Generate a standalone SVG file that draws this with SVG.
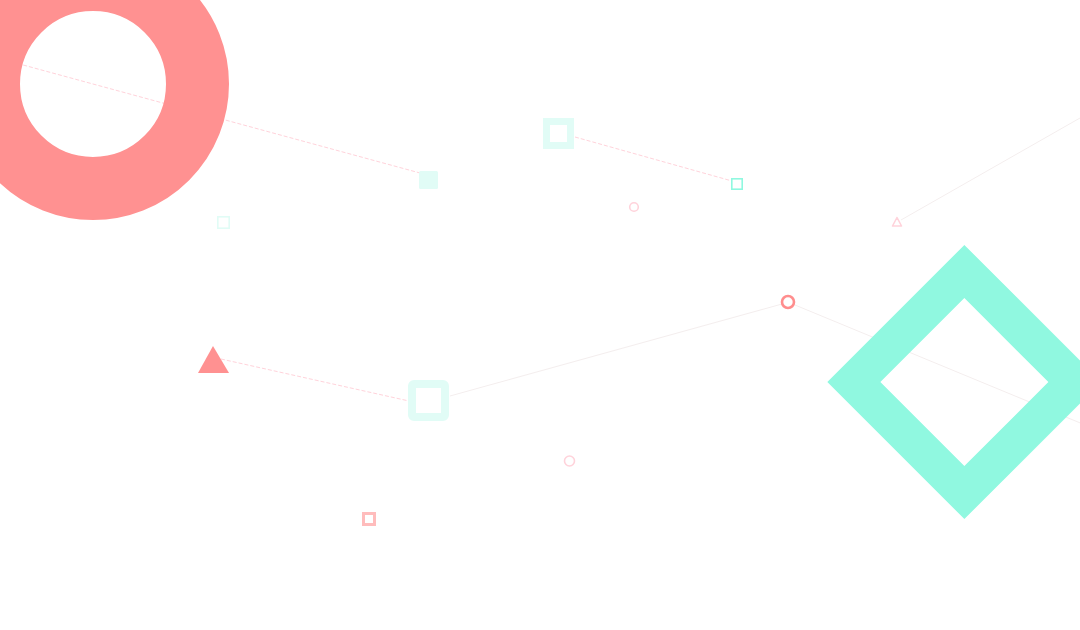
<svg xmlns="http://www.w3.org/2000/svg" width="1080" height="630" viewBox="0 0 1080 630">
<style>
.dash{fill:none;stroke:#ffd3db;stroke-width:1;stroke-dasharray:4 2}
.thin{fill:none;stroke:#f4eeee;stroke-width:1}
.coral{fill:#ff9191}
.mint{fill:none;stroke:#90f8e0}
.pale{fill:#e1fcf6}
.paleS{fill:none;stroke:#e1fcf6}
.pinkS{fill:none;stroke:#ffd3db}
</style>
<rect width="1080" height="630" fill="#ffffff"/>
<g id="connectors">
<line class="dash" x1="0" y1="58.7" x2="420" y2="173"/>
<line class="dash" x1="575" y1="137" x2="732" y2="181"/>
<line class="dash" x1="221" y1="359" x2="409" y2="401"/>
<line class="thin" x1="450" y1="396" x2="782" y2="304"/>
<line class="thin" x1="795" y1="305" x2="1090" y2="427"/>
<line class="thin" x1="901" y1="220" x2="1080" y2="118"/>
</g>
<g id="ring">
<circle cx="93" cy="84" r="104.5" fill="none" stroke="#ff9191" stroke-width="63"/>
</g>
<g id="diamond">
<rect x="886.2" y="303.8" width="156.3" height="156.3" class="mint" stroke-width="37.5" transform="rotate(45 964.3 382)"/>
</g>
<g id="square-filled-small">
<rect x="419" y="171" width="19" height="18" rx="1.5" class="pale"/>
</g>
<g id="square-outline-tiny">
<rect x="217.8" y="216.8" width="11.4" height="11.4" class="paleS" stroke-width="1.6"/>
</g>
<g id="square-outline-top">
<rect x="546.5" y="121.5" width="24" height="24" class="paleS" stroke-width="7"/>
</g>
<g id="square-mint-small">
<rect x="731.8" y="178.8" width="10.4" height="10.4" class="mint" stroke-width="1.6"/>
</g>
<g id="circle-pink-top">
<circle cx="634" cy="207" r="4.3" class="pinkS" stroke-width="1.6"/>
</g>
<g id="triangle-pink-small">
<polygon points="897,217.5 892.5,226 901.5,226" class="pinkS" stroke-width="1.6" stroke-linejoin="round"/>
</g>
<g id="circle-coral">
<circle cx="788" cy="302" r="6" fill="none" stroke="#ff8e8e" stroke-width="2.6"/>
</g>
<g id="triangle-coral">
<polygon points="213,346 198,373 229,373" class="coral"/>
</g>
<g id="square-outline-mid">
<rect x="412" y="384" width="33" height="33" rx="2" class="paleS" stroke-width="8"/>
</g>
<g id="circle-pink-bottom">
<circle cx="569.5" cy="461" r="5" class="pinkS" stroke-width="1.6"/>
</g>
<g id="square-pink-bottom">
<rect x="363.5" y="513.5" width="11" height="11" fill="none" stroke="#ffbcbc" stroke-width="3"/>
</g>
</svg>
